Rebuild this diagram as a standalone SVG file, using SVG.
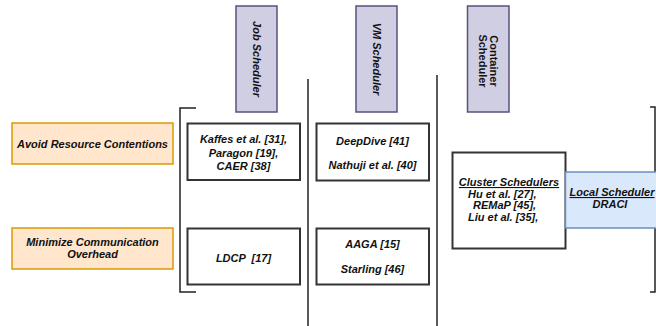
<svg xmlns="http://www.w3.org/2000/svg" width="656" height="326" viewBox="0 0 656 326">
<style>
text{font-family:"Liberation Sans",Arial,sans-serif;font-size:11px;font-weight:bold;font-style:italic;fill:#111;text-anchor:middle;white-space:pre}
.sched{fill:#d0cee2;stroke:#56517e;stroke-width:1.5}
.goal{fill:#ffe6cc;stroke:#d79b00;stroke-width:1.5}
.box{fill:#fff;stroke:#333;stroke-width:2}
.local{fill:#dae8fc;stroke:#6c8ebf;stroke-width:1.5}
.line{fill:none;stroke:#222;stroke-width:1.5}
.u{text-decoration:underline}
</style>
<rect width="656" height="326" fill="#fff"/>
<g id="connectors">
<line class="line" x1="308" y1="79" x2="308" y2="326"/>
<line class="line" x1="437" y1="75" x2="437" y2="326"/>
<path class="line" d="M196 108 H180 V292 H196"/>
<path class="line" d="M650 107 H655 V292 H650"/>
</g>
<g id="job-scheduler">
<rect class="sched" x="236" y="6" width="41" height="106"/>
<text transform="translate(256.5,59) rotate(90)" y="4">Job Scheduler</text>
</g>
<g id="vm-scheduler">
<rect class="sched" x="356" y="6" width="41" height="106"/>
<text transform="translate(376.5,59) rotate(90)" y="4">VM Scheduler</text>
</g>
<g id="container-scheduler">
<rect class="sched" x="467.5" y="6" width="41.5" height="106"/>
<text transform="translate(488,61) rotate(90)" style="font-style:normal"><tspan x="0" y="-1.5">Container</tspan><tspan x="0" y="9.5">Scheduler</tspan></text>
</g>
<g id="avoid-resource">
<rect class="goal" x="12" y="123" width="161" height="41"/>
<text x="92.5" y="148">Avoid Resource Contentions</text>
</g>
<g id="minimize-communication">
<rect class="goal" x="12" y="228" width="161" height="41"/>
<text x="92.5" y="246">Minimize Communication</text>
<text x="92.5" y="258">Overhead</text>
</g>
<g id="job-contention">
<rect class="box" x="187.5" y="123.5" width="112.5" height="56.5"/>
<text x="243.5" y="143">Kaffes et al. [31],</text>
<text x="243.5" y="156.5">Paragon [19],</text>
<text x="243.5" y="170">CAER [38]</text>
</g>
<g id="job-communication">
<rect class="box" x="187.5" y="228.5" width="112.5" height="56"/>
<text x="243.5" y="261.5">LDCP  [17]</text>
</g>
<g id="vm-contention">
<rect class="box" x="316.5" y="123.5" width="112.5" height="57"/>
<text x="372.5" y="145">DeepDive [41]</text>
<text x="372.5" y="169">Nathuji et al. [40]</text>
</g>
<g id="vm-communication">
<rect class="box" x="316.5" y="228.5" width="112.5" height="56"/>
<text x="372.5" y="248">AAGA [15]</text>
<text x="372.5" y="273">Starling [46]</text>
</g>
<g id="cluster-schedulers">
<rect class="box" x="452.5" y="152.5" width="113" height="96"/>
<text class="u" x="509" y="186">Cluster Schedulers</text>
<text x="468" y="197.5" style="text-anchor:start">Hu et al. [27],</text>
<text x="473" y="209" style="text-anchor:start">REMaP [45],</text>
<text x="468" y="221" style="text-anchor:start">Liu et al. [35],</text>
</g>
<g id="local-scheduler">
<rect class="local" x="565.5" y="172" width="100" height="56"/>
<text class="u" x="612" y="196">Local Scheduler</text>
<text x="610" y="207.5">DRACI</text>
</g>
</svg>
